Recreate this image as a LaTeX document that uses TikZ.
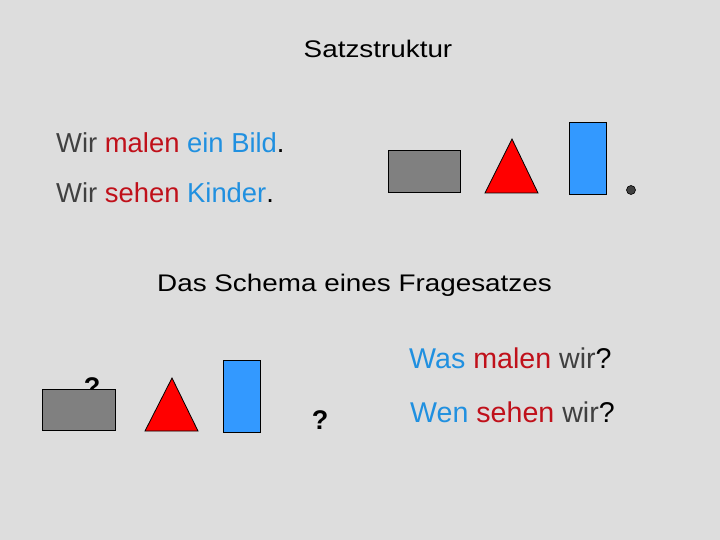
\documentclass[tikz,border=0pt]{standalone}
\usepackage{fontspec}
\setmainfont{Liberation Sans}
\newfontfamily\widefont[FakeStretch=1.16]{Liberation Sans}
\definecolor{bg}{HTML}{DDDDDD}
\definecolor{wordgray}{HTML}{404040}
\definecolor{wordred}{HTML}{C0101A}
\definecolor{wordblue}{HTML}{2090E0}
\definecolor{boxgray}{HTML}{808080}
\definecolor{boxblue}{HTML}{3399FF}

\begin{document}
\begin{tikzpicture}[x=1pt, y=-1pt,
    satz/.style={font=\fontsize{27.4}{32}\selectfont, anchor=base west, inner sep=0pt},
    antwort/.style={font=\fontsize{28.6}{32}\selectfont, anchor=base west, inner sep=0pt},
    titel/.style={font=\widefont\fontsize{24}{28}\selectfont, anchor=base, inner sep=0pt},
    frage/.style={font=\bfseries\fontsize{27}{30}\selectfont, anchor=base, inner sep=0pt},
    form/.style={draw=black, line width=0.8pt}]

        \fill[bg] (0,0) rectangle (720,540);
        \useasboundingbox (0,0) rectangle (720,540);

        \node[titel] (TITLE) at (378,58) {Satzstruktur};
        \node[satz] (BILD) at (56,153) {\textcolor{wordgray}{Wir} \textcolor{wordred}{malen} \textcolor{wordblue}{ein Bild}.};
        \node[satz] (KINDER) at (56,203) {\textcolor{wordgray}{Wir} \textcolor{wordred}{sehen} \textcolor{wordblue}{Kinder}.};

        % Satzglieder oben
        \filldraw[form, fill=boxgray] (388,150) rectangle (460,192);
        \filldraw[form, fill=red] (485,193) -- (512,139) -- (538,193) -- cycle;
        \filldraw[form, fill=boxblue] (569,122) rectangle (606,194);
        \filldraw[fill=wordgray, draw=black, line width=0.6pt] (631,190) circle[radius=4.5pt];

        \node[titel] (SCHEMA) at (354.5,291) {Das Schema eines Fragesatzes};

        % Satzglieder unten
        \node[frage] (Q1) at (92,396) {?};
        \filldraw[form, fill=boxgray] (42,389) rectangle (115,430);
        \filldraw[form, fill=red] (145,431) -- (172,378) -- (198,431) -- cycle;
        \filldraw[form, fill=boxblue] (223,360) rectangle (260,432);
        \node[frage] (Q2) at (320,429) {?};

        \node[antwort] (WAS) at (409,368) {\textcolor{wordblue}{Was} \textcolor{wordred}{malen} \textcolor{wordgray}{wir}?};
        \node[antwort] (WEN) at (410,422) {\textcolor{wordblue}{Wen} \textcolor{wordred}{sehen} \textcolor{wordgray}{wir}?};
\end{tikzpicture}
\end{document}
